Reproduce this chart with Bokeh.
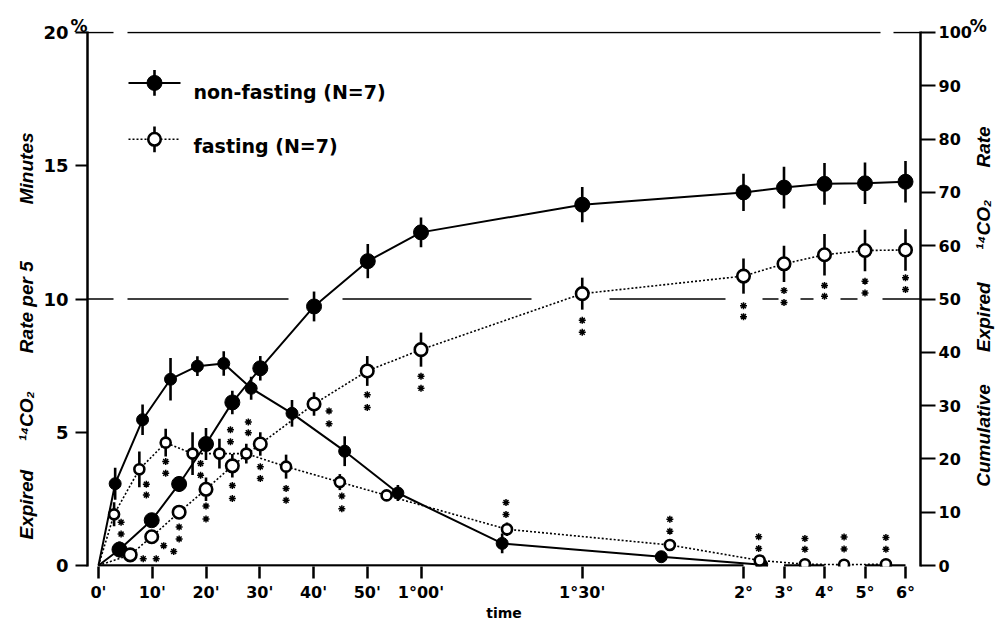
import math
from bokeh.plotting import figure
from bokeh.models import Range1d, LinearAxis, FixedTicker, Label, Title
from bokeh.embed import file_html
from bokeh.resources import INLINE

# ---------------- data ----------------
x_tick_minutes = [0, 10, 20, 30, 40, 50, 60, 90, 120, 180, 240, 300, 360]
x_tick_labels = ["0'", "10'", "20'", "30'", "40'", "50'", "1°00'", "1°30'", "2°", "3°", "4°", "5°", "6°"]
left_ticks = [0, 5, 10, 15, 20]
right_ticks = [0, 10, 20, 30, 40, 50, 60, 70, 80, 90, 100]

# expired 14CO2 rate per 5 minutes (%), left axis
nf_rate_t = [0, 3.1, 8.2, 13.4, 18.4, 23.3, 28.4, 36.0, 45.8, 55.7, 75.1, 104.7, 147]
nf_rate_v = [0, 3.07, 5.47, 6.99, 7.48, 7.58, 6.65, 5.71, 4.29, 2.72, 0.83, 0.33, 0.03]
nf_rate_e = [0, 0.6, 0.57, 0.8, 0.37, 0.46, 0.43, 0.5, 0.56, 0.3, 0.37, 0.15, 0.0]

f_rate_t = [0, 2.9, 7.6, 12.5, 17.5, 22.5, 27.5, 34.9, 44.9, 53.6, 76.0, 106.3, 144, 211, 269, 331]
f_rate_v = [0, 1.92, 3.61, 4.61, 4.20, 4.20, 4.20, 3.71, 3.13, 2.63, 1.36, 0.77, 0.19, 0.05, 0.03, 0.05]
f_rate_e = [0, 0.45, 0.67, 0.52, 0.8, 0.56, 0.37, 0.45, 0.3, 0.2, 0.25, 0.2, 0, 0, 0, 0]

# cumulative expired 14CO2 (%), right axis
nf_cum_t = [0, 3.9, 9.9, 15.0, 20.0, 24.9, 30.1, 40.1, 50.1, 60.0, 90, 120, 180, 240, 300, 360]
nf_cum_v = [0, 3.0, 8.5, 15.3, 22.8, 30.6, 37.0, 48.6, 57.1, 62.5, 67.7, 70.0, 70.9, 71.6, 71.7, 72.0]
nf_cum_e = [0, 1.5, 1.0, 1.5, 3.0, 2.2, 2.3, 2.8, 3.2, 2.8, 3.3, 3.5, 3.9, 3.9, 3.9, 3.9]

f_cum_t = [0, 5.9, 9.9, 15.0, 20.0, 24.9, 30.1, 40.1, 50.0, 60.0, 90, 120, 180, 240, 300, 360]
f_cum_v = [0, 2.0, 5.4, 10.0, 14.3, 18.7, 22.8, 30.3, 36.5, 40.5, 51.0, 54.3, 56.6, 58.3, 59.1, 59.2]
f_cum_e = [0, 1.0, 1.0, 1.0, 2.2, 2.2, 2.2, 2.2, 2.8, 3.2, 3.0, 3.3, 3.4, 3.9, 3.9, 3.9]

# indices of fasting points marked "**" (vs non-fasting)
f_rate_sig = [1, 2, 3, 4, 5, 6, 7, 8, 10, 11, 12, 13, 14, 15]
f_cum_sig = [1, 2, 3, 4, 5, 6, 7, 8, 9, 10, 11, 12, 13, 14, 15]

legend_labels = ["non-fasting (N=7)", "fasting (N=7)"]
EM, EN, THIN = "\u2003", "\u2002", "\u2009"
left_title = ("Expired" + EM + EN + "\u00b9\u2074CO\u2082" + EM + EM + "Rate per 5"
              + EM + EM + EN + EN + "Minutes")
RGAP = EM + EN + THIN
right_title = ("Cumulative" + RGAP + "Expired" + RGAP + "\u00b9\u2074CO\u2082"
               + RGAP + "Rate")
x_title = "time"

# ---------------- layout ----------------
W, H = 1007, 623
FL, FR, FT, FB = 87, 920, 31, 572          # frame edges in page pixels
BL, BR, BT, BB = FL, W - FR, FT, H - FB
FRAME_W = FR - FL
FRAME_H = FB - FT
PX_PER_MIN = 5.375
LATE_PX_PER_HOUR = 40.5
CUM = 5.0                   # right axis = 5 x left axis


def tpos(t):
    """broken time scale: linear to 2 h, compressed afterwards"""
    if t <= 120:
        return t
    return 120 + (t - 120) * LATE_PX_PER_HOUR / 60.0 / PX_PER_MIN


x_start = -11.0 / PX_PER_MIN
x_end = x_start + FRAME_W / PX_PER_MIN
PX_PER_Y = 26.95
y_start = -1.0 / PX_PER_Y
y_end = y_start + FRAME_H / PX_PER_Y


def px2x(px):
    return x_start + (px - FL) / PX_PER_MIN


def py2y(py):
    return y_start + (FB - py) / PX_PER_Y


p = figure(width=W, height=H, x_range=Range1d(x_start, x_end),
           y_range=Range1d(y_start, y_end), output_backend="svg",
           toolbar_location=None, min_border_left=BL, min_border_right=BR,
           min_border_top=BT, min_border_bottom=BB)
p.extra_y_ranges = {"cum": Range1d(y_start * CUM, y_end * CUM)}
p.grid.visible = False
p.outline_line_color = None
p.background_fill_color = "white"
p.border_fill_color = "white"

TICK_FONT = "DejaVu Sans"
TITLE_FONT = "Liberation Sans"

# bottom axis (broken line drawn below as glyph segments)
xa = p.xaxis[0]
xpos = [round(tpos(t), 6) for t in x_tick_minutes]
xa.ticker = FixedTicker(ticks=xpos, minor_ticks=[])
xa.major_label_overrides = {xp: lab for xp, lab in zip(xpos, x_tick_labels)}
xa.axis_line_color = None
xa.major_tick_out = 12
xa.major_tick_in = 0
xa.major_tick_line_width = 2.5
xa.major_tick_line_color = "black"
xa.minor_tick_line_color = None
xa.major_label_standoff = 4
xa.major_label_text_font = TICK_FONT
xa.major_label_text_font_size = "16px"
xa.major_label_text_font_style = "bold"
xa.major_label_text_color = "black"
xa.axis_label = x_title
xa.axis_label_standoff = 0
xa.axis_label_text_font = TICK_FONT
xa.axis_label_text_font_size = "14px"
xa.axis_label_text_font_style = "bold"
xa.axis_label_text_color = "black"

# left axis
ya = p.yaxis[0]
ya.ticker = FixedTicker(ticks=left_ticks, minor_ticks=[])
ya.axis_line_width = 2.5
ya.axis_line_color = "black"
ya.major_tick_out = 12
ya.major_tick_in = 0
ya.major_tick_line_width = 2.2
ya.major_tick_line_color = "black"
ya.minor_tick_line_color = None
ya.major_label_standoff = 7
ya.major_label_text_font = TICK_FONT
ya.major_label_text_font_size = "18px"
ya.major_label_text_font_style = "bold"
ya.major_label_text_color = "black"

# right axis
ra = LinearAxis(y_range_name="cum", ticker=FixedTicker(ticks=right_ticks, minor_ticks=[]))
ra.axis_line_width = 2.5
ra.axis_line_color = "black"
ra.major_tick_out = 15
ra.major_tick_in = 0
ra.major_tick_line_width = 2.2
ra.major_tick_line_color = "black"
ra.minor_tick_line_color = None
ra.major_label_standoff = 3
ra.major_label_text_font = TICK_FONT
ra.major_label_text_font_size = "16px"
ra.major_label_text_font_style = "bold"
ra.major_label_text_color = "black"
p.add_layout(ra, "right")

TITLE_STYLE = dict(text_font=TITLE_FONT, text_font_size="19px",
                   text_font_style="bold italic", text_color="black")

axis_props = LinearAxis.properties()
if "axis_label_orientation" in axis_props:
    # read bottom-to-top like the left title
    ra.axis_label_orientation = math.pi / 2
    if "axis_label_align" in axis_props:
        ra.axis_label_align = "start"
        ra.axis_label = EM * 4 + THIN + right_title
    else:
        ra.axis_label = right_title
    ra.axis_label_standoff = 9
    ra.axis_label_text_font = TITLE_FONT
    ra.axis_label_text_font_size = "19px"
    ra.axis_label_text_font_style = "bold italic"
    ra.axis_label_text_color = "black"
else:
    p.add_layout(Title(text=right_title, align="center", standoff=9, **TITLE_STYLE), "right")

# left title starts 27 px above the frame bottom
p.add_layout(Title(text=left_title, align="left", offset=27, standoff=8, **TITLE_STYLE), "left")

# superscript "%" signs next to the top tick labels
pct = "%" + EM * 51 + EN + THIN + THIN + "%"
p.add_layout(Title(text=pct, align="left", offset=-17, standoff=-8, vertical_align="bottom",
                   text_font=TICK_FONT, text_font_size="17px", text_font_style="bold",
                   text_color="black"), "above")

# broken time axis line
seg_pairs = [(0, 120), (180, 240), (300, 360)]
p.segment(x0=[tpos(a) for a, b in seg_pairs], y0=[0] * 3,
          x1=[tpos(b) for a, b in seg_pairs], y1=[0] * 3,
          line_color="black", line_width=2.5)

# reference lines at 20 % / 100 % and 10 % / 50 %
ref20 = [(FL, 113), (127, 880), (893, FR)]
ref10 = [(FL, 113), (127, 288), (342, 531), (609, 725), (762, 778),
         (800, 813), (840, 857), (882, FR)]
for level, segs in ((20, ref20), (10, ref10)):
    p.segment(x0=[px2x(a) for a, b in segs], y0=[level] * len(segs),
              x1=[px2x(b) for a, b in segs], y1=[level] * len(segs),
              line_color="black", line_width=1.3)

SOLID = dict(line_color="black", line_width=2)
DOTTED = dict(line_color="black", line_width=1.6, line_dash="2 2")

series = [
    (nf_rate_t, nf_rate_v, nf_rate_e, "default", True, 12),
    (f_rate_t, f_rate_v, f_rate_e, "default", False, 10),
    (nf_cum_t, nf_cum_v, nf_cum_e, "cum", True, 15),
    (f_cum_t, f_cum_v, f_cum_e, "cum", False, 12.5),
]

for ts, vs, es, rng, filled, size in series:
    xs = [tpos(t) for t in ts]
    p.line(xs, vs, y_range_name=rng, **(SOLID if filled else DOTTED))

for ts, vs, es, rng, filled, size in series:
    xs = [tpos(t) for t in ts[1:]]
    v = vs[1:]
    e = es[1:]
    p.segment(x0=xs, y0=[a - b for a, b in zip(v, e)], x1=xs,
              y1=[a + b for a, b in zip(v, e)], y_range_name=rng,
              line_color="black", line_width=2.6)

for ts, vs, es, rng, filled, size in series:
    if filled:
        p.scatter([tpos(t) for t in ts[1:]], vs[1:], y_range_name=rng, size=size,
                  marker="circle", fill_color="black", line_color="black", line_width=1)
for ts, vs, es, rng, filled, size in series:
    if not filled:
        p.scatter([tpos(t) for t in ts[1:]], vs[1:], y_range_name=rng, size=size,
                  marker="circle", fill_color="white", line_color="black", line_width=2.6)

# significance asterisks: pixel offsets (dx, dy down) of each star from its point
RATE_STAR_OFF = {1: ((7, 8), (7, 20)), 2: ((7, 15), (7, 26)), 3: ((0, 19), (0, 31)),
                 4: ((8, 10), (8, 22)), 5: ((11, -24), (11, -12)), 6: ((2, -32), (2, -21)),
                 7: ((0, 22), (0, 34)), 8: ((2, 14), (2, 27)), 10: ((-1, -27), (-1, -15)),
                 11: ((0, -26), (0, -14)), 12: ((-1, -24), (-1, -12)), 13: ((0, -26), (0, -15)),
                 14: ((0, -28), (0, -16)), 15: ((0, -27), (0, -15))}
CUM_STAR_OFF = {1: ((13, 4), (26, 4)), 2: ((12, 9), (22, 15)), 3: ((0, 15), (0, 27)),
                4: ((0, 17), (0, 30)), 5: ((0, 20), (0, 33)), 6: ((0, 23), (0, 35)),
                7: ((15, 7), (15, 20)), 8: ((0, 24), (0, 37)), 9: ((0, 27), (0, 39)),
                10: ((0, 27), (0, 39)), 11: ((0, 30), (0, 41)), 12: ((0, 27), (0, 39)),
                13: ((0, 31), (0, 42)), 14: ((0, 31), (0, 43)), 15: ((0, 28), (0, 40))}
sx, sy = [], []
for idx in f_rate_sig:
    for dx, dy in RATE_STAR_OFF[idx]:
        sx.append(tpos(f_rate_t[idx]) + dx / PX_PER_MIN)
        sy.append(f_rate_v[idx] - dy / PX_PER_Y)
for idx in f_cum_sig:
    for dx, dy in CUM_STAR_OFF[idx]:
        sx.append(tpos(f_cum_t[idx]) + dx / PX_PER_MIN)
        sy.append(f_cum_v[idx] / CUM - dy / PX_PER_Y)
p.scatter(sx, sy, marker="asterisk", size=7, line_color="black", line_width=1.5)

# legend (drawn by hand)
LEG_ROWS_PY = [83, 140]
LEG_TEXT_PY = [92, 147]
for k, filled in enumerate([True, False]):
    ly = py2y(LEG_ROWS_PY[k])
    p.line([px2x(128), px2x(180)], [ly, ly], **(SOLID if filled else DOTTED))
    p.segment(x0=[px2x(154)], y0=[ly - 13 / PX_PER_Y], x1=[px2x(154)],
              y1=[ly + 13 / PX_PER_Y], line_color="black", line_width=2.6)
    if filled:
        p.scatter([px2x(154)], [ly], size=15, fill_color="black", line_color="black")
    else:
        p.scatter([px2x(154)], [ly], size=12.5, fill_color="white",
                  line_color="black", line_width=2.6)
    p.add_layout(Label(x=px2x(193), y=py2y(LEG_TEXT_PY[k]), text=legend_labels[k],
                       text_font="DejaVu Sans", text_font_size="19px",
                       text_font_style="bold", text_baseline="alphabetic",
                       text_align="left", text_color="black"))

open("out.html", "w").write(file_html(p, INLINE))
